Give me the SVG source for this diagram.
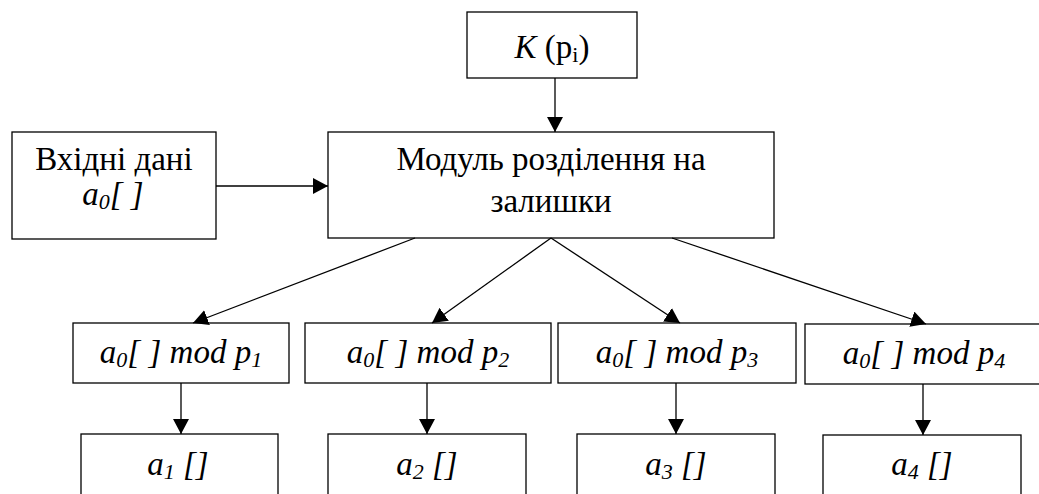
<svg xmlns="http://www.w3.org/2000/svg" width="1039" height="494" viewBox="0 0 1039 494">
  <style>
    .box { fill: #ffffff; stroke: #000000; stroke-width: 1.3; }
    .lbl { font-family: "Liberation Serif", "Times New Roman", serif; font-size: 33px; fill: #000000; text-anchor: middle; }
    .it { font-style: italic; }
    .sub { font-size: 22px; }
    .edge { stroke: #000000; stroke-width: 1.3; fill: none; marker-end: url(#arrow); }
  </style>
  <defs>
    <marker id="arrow" markerUnits="userSpaceOnUse" markerWidth="16" markerHeight="17" refX="15" refY="8" orient="auto">
      <path d="M0,0 L15,8 L0,16 Z" fill="#000000"/>
    </marker>
  </defs>

  <!-- key source -->
  <g id="key">
    <rect class="box" x="467" y="12" width="170" height="66"/>
    <text class="lbl" x="552" y="58"><tspan class="it">K</tspan> (p<tspan class="sub" dy="4">i</tspan><tspan dy="-4">)</tspan></text>
  </g>

  <!-- input data -->
  <g id="input">
    <rect class="box" x="12" y="132" width="204" height="107"/>
    <text class="lbl" x="114" y="170">Вхідні дані</text>
    <text class="lbl it" x="113" y="205">a<tspan class="sub" dy="4">0</tspan><tspan dy="-4">[ ]</tspan></text>
  </g>

  <!-- residue splitting module -->
  <g id="module">
    <rect class="box" x="328" y="132" width="446" height="106"/>
    <text class="lbl" x="551" y="170">Модуль розділення на</text>
    <text class="lbl" x="551" y="212">залишки</text>
  </g>

  <!-- residue branches -->
  <g id="mod1">
    <rect class="box" x="73" y="323" width="216" height="60"/>
    <text class="lbl it" x="181" y="363">a<tspan class="sub" dy="4">0</tspan><tspan dy="-4">[ ] mod p</tspan><tspan class="sub" dy="4">1</tspan></text>
  </g>
  <g id="mod2">
    <rect class="box" x="305" y="323" width="246" height="60"/>
    <text class="lbl it" x="428" y="363">a<tspan class="sub" dy="4">0</tspan><tspan dy="-4">[ ] mod p</tspan><tspan class="sub" dy="4">2</tspan></text>
  </g>
  <g id="mod3">
    <rect class="box" x="558" y="323" width="238" height="60"/>
    <text class="lbl it" x="677" y="363">a<tspan class="sub" dy="4">0</tspan><tspan dy="-4">[ ] mod p</tspan><tspan class="sub" dy="4">3</tspan></text>
  </g>
  <g id="mod4">
    <rect class="box" x="805" y="324" width="260" height="60"/>
    <text class="lbl it" x="924" y="364">a<tspan class="sub" dy="4">0</tspan><tspan dy="-4">[ ] mod p</tspan><tspan class="sub" dy="4">4</tspan></text>
  </g>

  <!-- output arrays -->
  <g id="out1">
    <rect class="box" x="81" y="434" width="197" height="80"/>
    <text class="lbl it" x="178" y="475">a<tspan class="sub" dy="4">1</tspan><tspan dy="-4"> []</tspan></text>
  </g>
  <g id="out2">
    <rect class="box" x="328" y="434" width="198" height="80"/>
    <text class="lbl it" x="427" y="475">a<tspan class="sub" dy="4">2</tspan><tspan dy="-4"> []</tspan></text>
  </g>
  <g id="out3">
    <rect class="box" x="577" y="434" width="198" height="80"/>
    <text class="lbl it" x="676" y="475">a<tspan class="sub" dy="4">3</tspan><tspan dy="-4"> []</tspan></text>
  </g>
  <g id="out4">
    <rect class="box" x="823" y="435" width="198" height="80"/>
    <text class="lbl it" x="922" y="475">a<tspan class="sub" dy="4">4</tspan><tspan dy="-4"> []</tspan></text>
  </g>

  <!-- connectors -->
  <g id="connectors">
    <line class="edge" x1="555" y1="78" x2="555" y2="132"/>
    <line class="edge" x1="216" y1="186" x2="328" y2="186"/>
    <line class="edge" x1="415" y1="238" x2="193" y2="323"/>
    <line class="edge" x1="551" y1="238" x2="432" y2="323"/>
    <line class="edge" x1="551" y1="238" x2="680" y2="323"/>
    <line class="edge" x1="672" y1="238" x2="926" y2="324"/>
    <line class="edge" x1="181" y1="383" x2="181" y2="434"/>
    <line class="edge" x1="427" y1="383" x2="427" y2="434"/>
    <line class="edge" x1="676" y1="383" x2="676" y2="434"/>
    <line class="edge" x1="923" y1="384" x2="923" y2="435"/>
  </g>
</svg>
